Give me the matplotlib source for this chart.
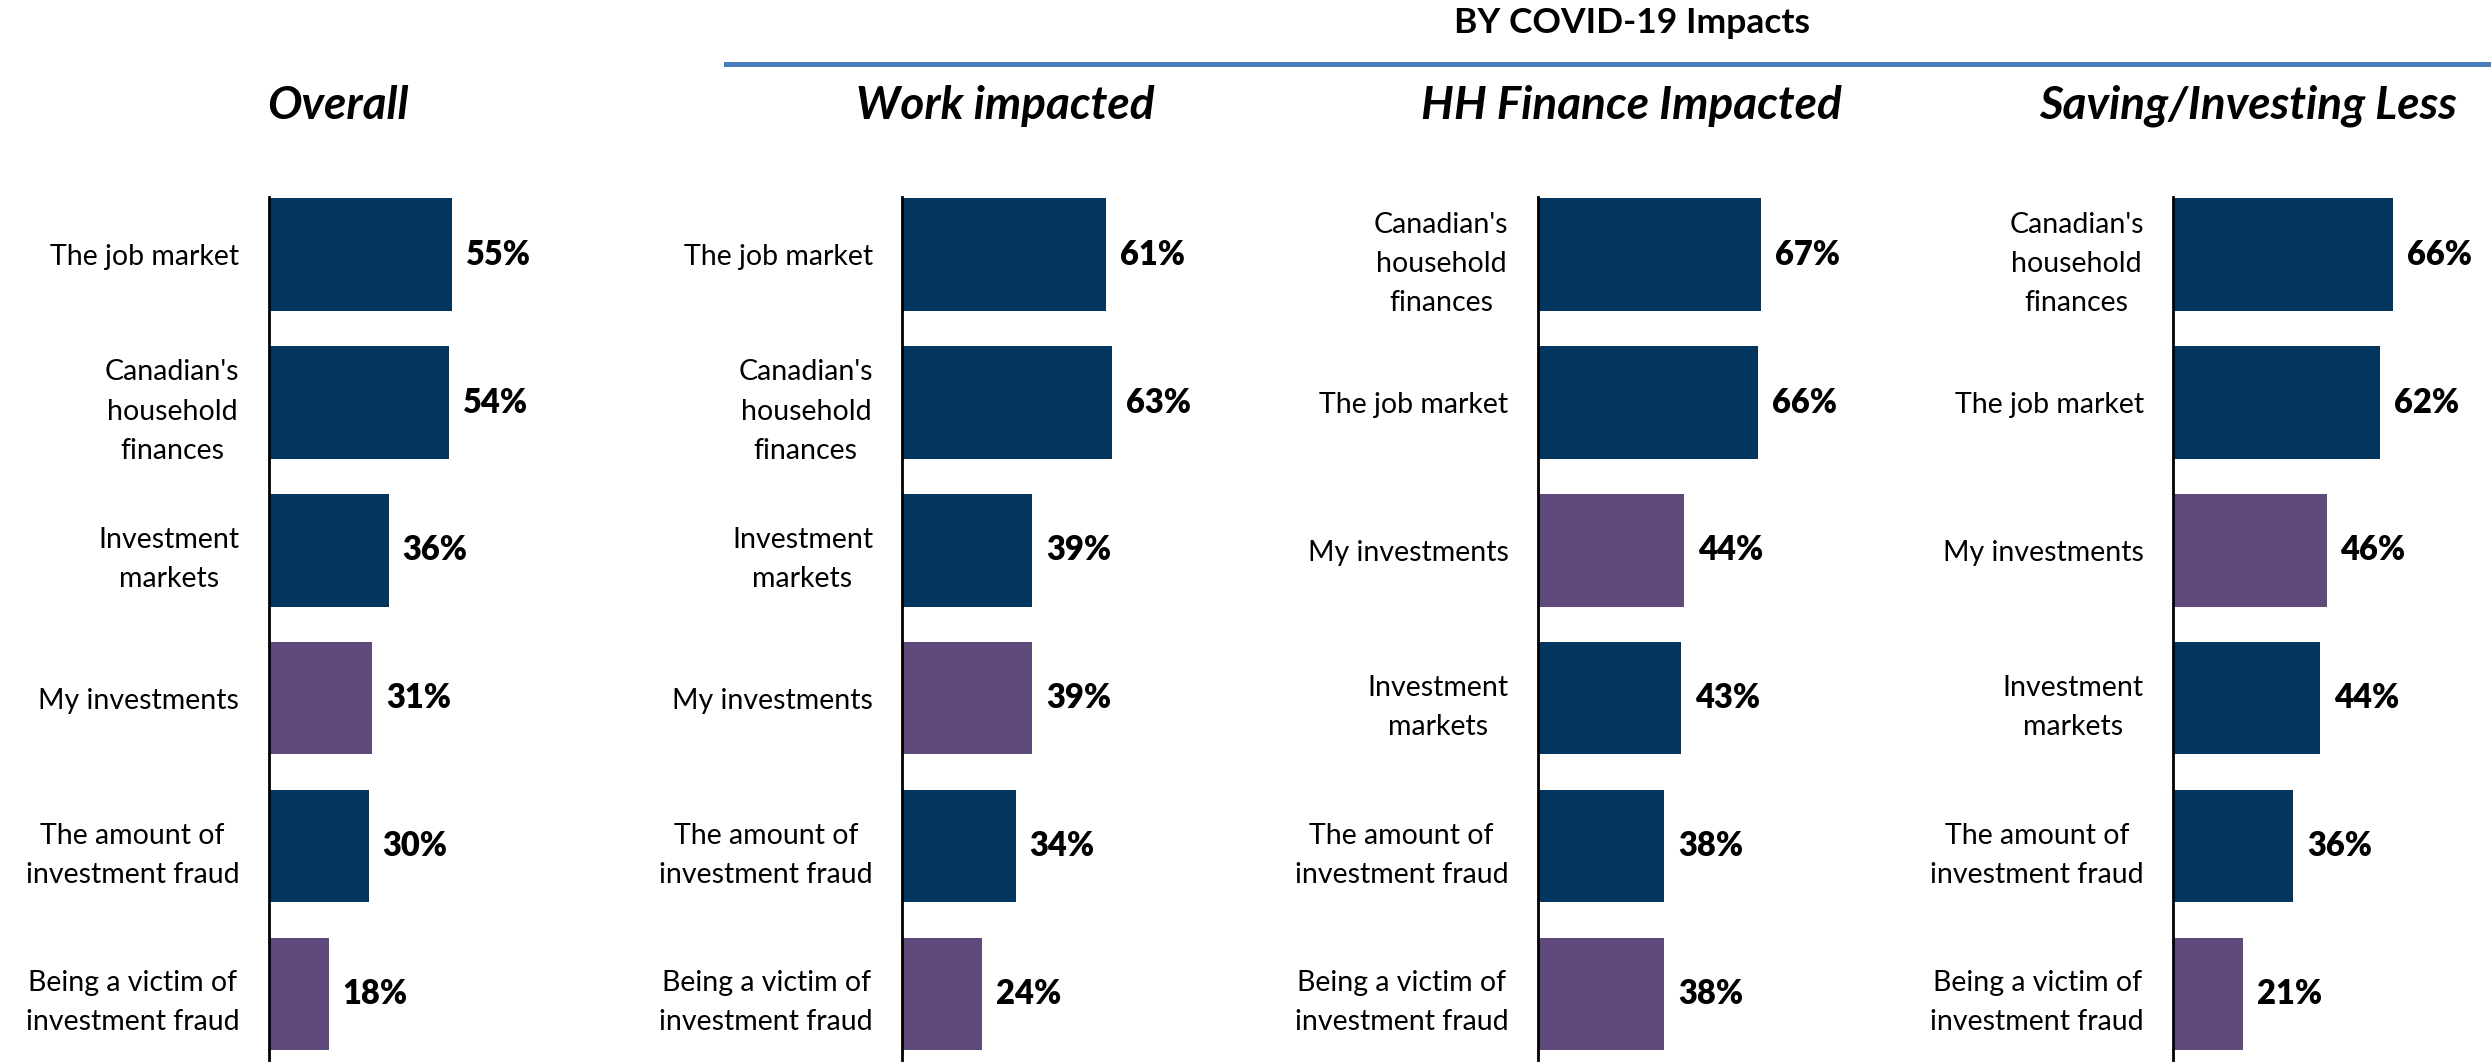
import matplotlib
matplotlib.use("Agg")
import matplotlib.pyplot as plt
from matplotlib.lines import Line2D

plt.rcParams['font.family'] = ['Lato', 'DejaVu Sans']

# panel data (top to bottom)
titles = ["Overall", "Work impacted", "HH Finance Impacted", "Saving/Investing Less"]

cats_overall = ["The job market", "Canadian's\nhousehold\nfinances", "Investment\nmarkets",
                "My investments", "The amount of\ninvestment fraud", "Being a victim of\ninvestment fraud"]
vals_overall = [55, 54, 36, 31, 30, 18]

cats_work = ["The job market", "Canadian's\nhousehold\nfinances", "Investment\nmarkets",
             "My investments", "The amount of\ninvestment fraud", "Being a victim of\ninvestment fraud"]
vals_work = [61, 63, 39, 39, 34, 24]

cats_hh = ["Canadian's\nhousehold\nfinances", "The job market", "My investments",
           "Investment\nmarkets", "The amount of\ninvestment fraud", "Being a victim of\ninvestment fraud"]
vals_hh = [67, 66, 44, 43, 38, 38]

cats_saving = ["Canadian's\nhousehold\nfinances", "The job market", "My investments",
               "Investment\nmarkets", "The amount of\ninvestment fraud", "Being a victim of\ninvestment fraud"]
vals_saving = [66, 62, 46, 44, 36, 21]

navy = "#03365E"
purple = "#604A7B"
personal = ["My investments", "Being a victim of\ninvestment fraud"]

panels = [(cats_overall, vals_overall), (cats_work, vals_work),
          (cats_hh, vals_hh), (cats_saving, vals_saving)]

fig = plt.figure(figsize=(24.91, 10.62), dpi=100)

lefts = [0.1078, 0.3622, 0.6173, 0.8724]
title_x = [0.1358, 0.4037, 0.655, 0.9024]

for i, (cats, vals) in enumerate(panels):
    ax = fig.add_axes([lefts[i], 0.0015, 0.1205, 0.813])
    ypos = list(range(len(cats)))
    colors = [purple if c in personal else navy for c in cats]
    ax.barh(ypos, vals, height=0.76, color=colors)
    ax.set_xlim(0, 90)
    ax.set_ylim(5.45, -0.39)
    ax.set_yticks(ypos)
    ax.set_yticklabels(cats, fontsize=20.5)
    for lbl in ax.get_yticklabels():
        lbl.set_multialignment("center")
        lbl.set_linespacing(1.62)
    ax.tick_params(axis="y", length=0, pad=21)
    ax.set_xticks([])
    for s in ["top", "right", "bottom"]:
        ax.spines[s].set_visible(False)
    ax.spines["left"].set_linewidth(2)
    ax.spines["left"].set_color("black")
    for y, v in zip(ypos, vals):
        ax.annotate(f"{v}%", (v, y), xytext=(10, 0), textcoords="offset points",
                    ha="left", va="center", fontsize=23.5, fontweight="heavy")
    fig.text(title_x[i], 0.900, titles[i], ha="center", va="center",
             fontsize=33, fontweight="bold", fontstyle="italic")

fig.text(0.655, 0.978, "BY COVID-19 Impacts", ha="center", va="center",
         fontsize=25.5, fontweight="bold")
fig.add_artist(Line2D([0.2915, 1.0], [0.940, 0.940], transform=fig.transFigure,
                      color="#4A7EBB", linewidth=3.6))

fig.savefig("out.png", dpi=100)
